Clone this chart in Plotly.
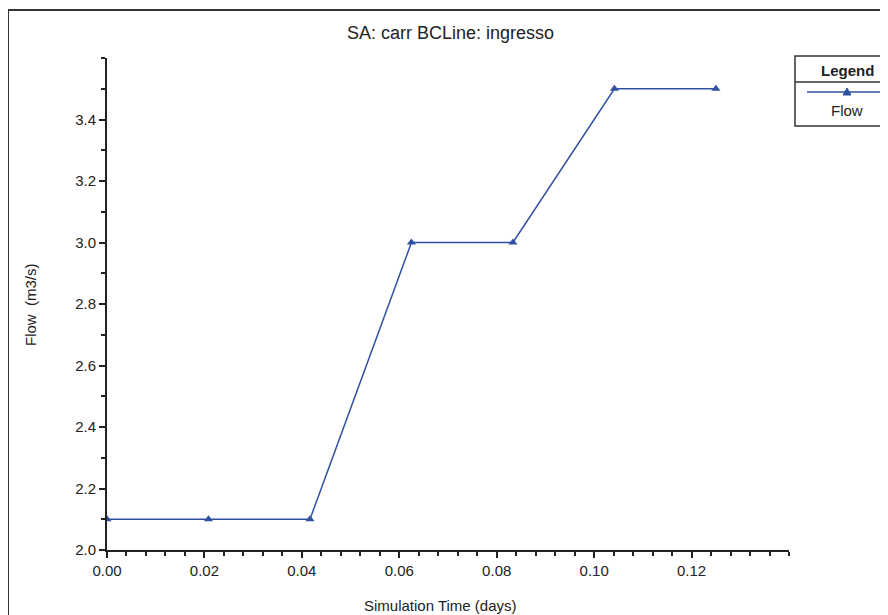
import plotly.graph_objects as go

time_days = [0.0, 0.020833, 0.041667, 0.0625, 0.083333, 0.104167, 0.125]
flow = [2.1, 2.1, 2.1, 3.0, 3.0, 3.5, 3.5]
x_ticks = [0.0, 0.02, 0.04, 0.06, 0.08, 0.10, 0.12]
y_ticks = [2.0, 2.2, 2.4, 2.6, 2.8, 3.0, 3.2, 3.4]

OFF = 8  # page body margin
W, H = 888 - OFF, 615 - OFF
# target plot area in screenshot pixels: x 107..789, y 58..550
L, R, T, B = 107 - OFF, 888 - 789, 58 - OFF, 615 - 550
pw, ph = W - L - R, H - T - B

def px(X):
    return (X - OFF - L) / pw

def py(Y):
    return (H - B - (Y - OFF)) / ph

line_color = "#3050A0"
ink = "#222"
font = "Liberation Sans, Arial, sans-serif"

fig = go.Figure()
fig.add_trace(go.Scatter(
    x=time_days, y=flow, mode="lines+markers", name="Flow",
    line=dict(color=line_color, width=1.5),
    marker=dict(symbol="triangle-up", size=8, color=line_color),
    showlegend=False,
))

fig.update_layout(
    width=W, height=H,
    margin=dict(l=L, r=R, t=T, b=B),
    paper_bgcolor="white", plot_bgcolor="white",
    font=dict(family=font, size=15, color=ink),
    xaxis=dict(
        range=[0, 0.14], tickvals=x_ticks, ticktext=[f"{v:.2f}" for v in x_ticks],
        showgrid=False, zeroline=False, showline=True, linecolor=ink, linewidth=2,
        ticks="outside", ticklen=6, tickwidth=1.5, tickcolor=ink,
        minor=dict(dtick=0.004, tick0=0, ticks="outside", ticklen=4, tickwidth=1.5, tickcolor=ink, showgrid=False),
        tickfont=dict(size=15),
    ),
    yaxis=dict(
        range=[2.0, 3.6], tickvals=y_ticks, ticktext=[f"{v:.1f}" for v in y_ticks],
        showgrid=False, zeroline=False, showline=True, linecolor=ink, linewidth=2,
        ticks="outside", ticklen=6, tickwidth=1.5, tickcolor=ink,
        minor=dict(dtick=0.1, tick0=2.0, ticks="outside", ticklen=4, tickwidth=1.5, tickcolor=ink, showgrid=False),
        tickfont=dict(size=15),
    ),
)

annotations = [
    dict(text="SA: carr BCLine: ingresso", x=px(450), y=py(33), font=dict(size=18, color=ink)),
    dict(text="Flow  (m3/s)", x=px(30), y=py(305), textangle=-90, font=dict(size=15, color=ink)),
    dict(text="Simulation Time (days)", x=px(440), y=py(605), font=dict(size=15, color=ink)),
    dict(text="<b>Legend</b>", x=px(847), y=py(70), font=dict(size=15, color=ink)),
    dict(text="Flow", x=px(847), y=py(111), font=dict(size=15, color=ink)),
]
for a in annotations:
    a.update(xref="paper", yref="paper", showarrow=False, xanchor="center", yanchor="middle")
fig.update_layout(annotations=annotations)

shapes = [
    # outer frame
    dict(type="rect", x0=px(8), x1=px(900), y0=py(10), y1=py(630), line=dict(color="#333", width=2)),
    # legend box
    dict(type="rect", x0=px(795), x1=px(900), y0=py(56), y1=py(126), line=dict(color="#333", width=1.5), fillcolor="white"),
    dict(type="line", x0=px(795), x1=px(900), y0=py(82), y1=py(82), line=dict(color="#333", width=1.5)),
    dict(type="line", x0=px(807), x1=px(886), y0=py(92), y1=py(92), line=dict(color=line_color, width=1.5)),
    dict(type="path", path=f"M {px(843)} {py(95)} L {px(851)} {py(95)} L {px(847)} {py(88)} Z",
         fillcolor=line_color, line=dict(color=line_color, width=1)),
]
for s in shapes:
    s.update(xref="paper", yref="paper", layer="above")
fig.update_layout(shapes=shapes)

fig.write_html("out.html")
